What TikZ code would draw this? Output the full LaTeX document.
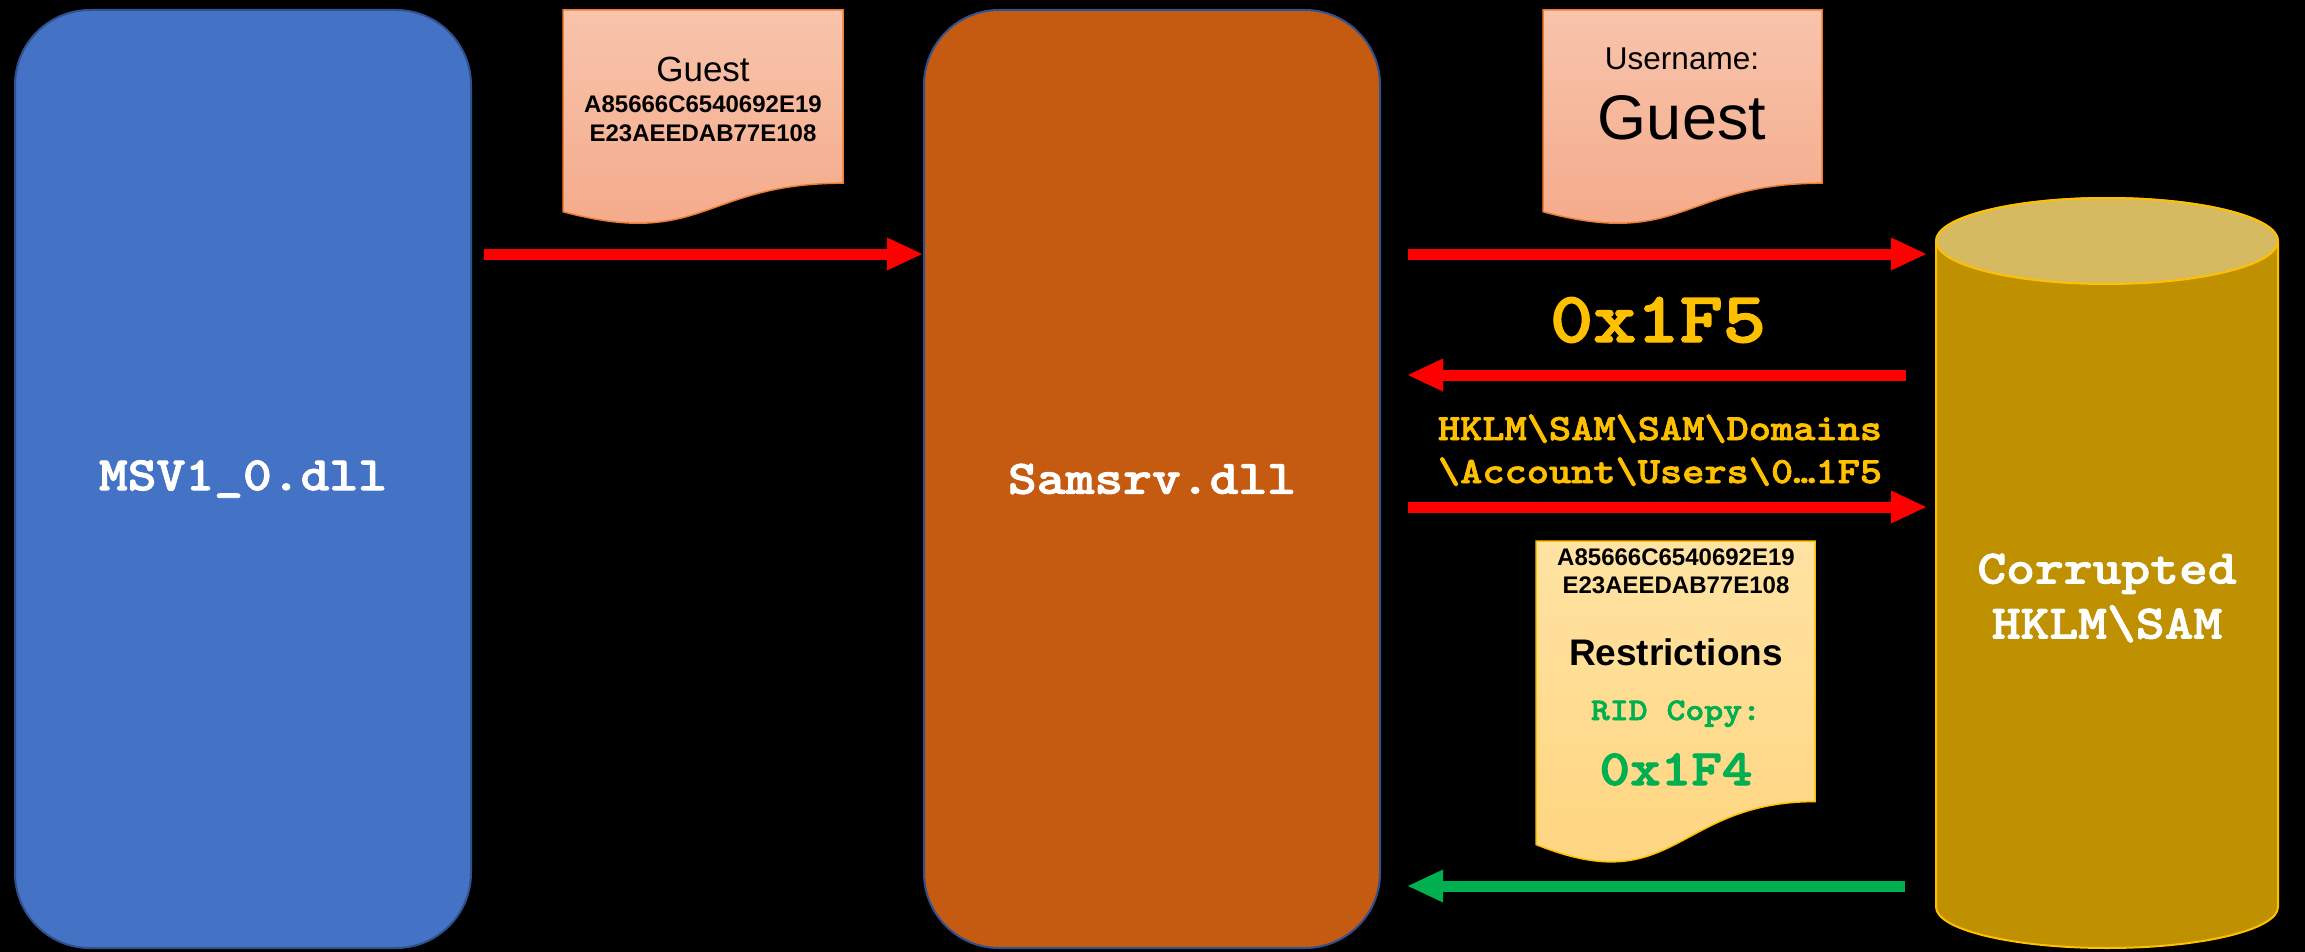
\documentclass[tikz,border=0pt]{standalone}
\usepackage{fontspec}
\setmainfont{Liberation Sans}
\setmonofont{Liberation Mono}
\newfontfamily\codefont[Extension=.otf, FakeStretch=1.143, FakeBold=2]{lmmonolt10-bold}
\usetikzlibrary{arrows.meta}
\definecolor{boxblue}{HTML}{4472C4}
\definecolor{boxedge}{HTML}{2F528F}
\definecolor{boxorange}{HTML}{C55A11}
\definecolor{cylbody}{HTML}{BF9000}
\definecolor{cyltop}{HTML}{D6BA62}
\definecolor{gold}{HTML}{FFC000}
\definecolor{arrred}{HTML}{FF0000}
\definecolor{arrgreen}{HTML}{00B050}
\definecolor{peachtop}{HTML}{F8C4AB}
\definecolor{peachbot}{HTML}{F4A888}
\definecolor{peachedge}{HTML}{ED7D31}
\definecolor{sandtop}{HTML}{FFE3A3}
\definecolor{sandbot}{HTML}{FFD47D}
\begin{document}
\begin{tikzpicture}[x=1pt,y=-1pt,
  procbox/.style={draw=boxedge, line width=2pt, rounded corners=75pt,
    minimum width=456pt, minimum height=938pt, inner sep=0pt,
    text=white, font={\fontsize{48}{56}\selectfont\codefont}},
  flowarrow/.style={line width=11pt, -{Triangle[length=35pt,width=33pt,line width=0pt]}},
  redflow/.style={flowarrow, draw=arrred, color=arrred},
  greenflow/.style={flowarrow, draw=arrgreen, color=arrgreen},
  peachdoc/.style={top color=peachtop, bottom color=peachbot, draw=peachedge, line width=1.5pt},
  sanddoc/.style={top color=sandtop, bottom color=sandbot, draw=gold, line width=1.5pt},
  doctext/.style={anchor=base, inner sep=0pt, text=black},
  codetext/.style={anchor=base, inner sep=0pt}
]
\fill[black] (0,0) rectangle (2305,952);
\useasboundingbox (0,0) rectangle (2305,952);

% process boxes
\node[procbox, fill=boxblue] (msv) at (243,479) {MSV1\_0.dll};
\node[procbox, fill=boxorange] (samsrv) at (1152,479) {Samsrv.dll};

% database cylinder
\fill[cylbody, draw=gold, line width=2pt] (1936,241) -- (1936,907)
  arc[start angle=180, end angle=360, x radius=171pt, y radius=41pt]
  -- (2278,241) arc[start angle=0, end angle=180, x radius=171pt, y radius=43pt] -- cycle;
\filldraw[fill=cyltop, draw=gold, line width=2pt] (2107,241) ellipse[x radius=171pt, y radius=43pt];
\node[text=white, align=center, inner sep=0pt,
  font={\fontsize{48}{55}\selectfont\codefont}] (samdb) at (2107,598) {Corrupted\\HKLM\textbackslash SAM};

% document 1
\path[peachdoc] (563,10) -- (843,10) -- (843,183.2)
  .. controls (703,183.2) and (703,249.2) .. (563,211.7) -- cycle;
\node[doctext, font={\fontsize{35}{40}\selectfont}] (d1name) at (703,82) {Guest};
\node[doctext, font={\fontsize{24}{28}\selectfont\bfseries}] (d1hexa) at (703,113) {A85666C6540692E19};
\node[doctext, font={\fontsize{24}{28}\selectfont\bfseries}] (d1hexb) at (703,142) {E23AEEDAB77E108};

% document 2
\path[peachdoc] (1543,10) -- (1822,10) -- (1822,183.2)
  .. controls (1682.5,183.2) and (1682.5,249.2) .. (1543,211.7) -- cycle;
\node[doctext, font={\fontsize{31.5}{36}\selectfont}] (d2label) at (1682,70) {Username:};
\node[doctext, font={\fontsize{63}{70}\selectfont}] (d2name) at (1682,140) {Guest};

% document 3
\path[sanddoc] (1536,541) -- (1815,541) -- (1815,801.6)
  .. controls (1675.5,801.6) and (1675.5,900.9) .. (1536,844.5) -- cycle;
\node[doctext, font={\fontsize{24}{28}\selectfont\bfseries}] (d3hexa) at (1676,565) {A85666C6540692E19};
\node[doctext, font={\fontsize{24}{28}\selectfont\bfseries}] (d3hexb) at (1676,593) {E23AEEDAB77E108};
\node[doctext, font={\fontsize{37}{42}\selectfont\bfseries}] (d3restr) at (1676,665) {Restrictions};
\node[codetext, text=arrgreen, font={\fontsize{31.5}{36}\selectfont\codefont}] (d3rid) at (1676,720) {RID Copy:};
\node[codetext, text=arrgreen, font={\fontsize{51}{58}\selectfont\codefont}] (d3val) at (1676,785) {0x1F4};

% labels between Samsrv and SAM
\node[codetext, text=gold, font={\fontsize{72}{80}\selectfont\codefont}] (rid) at (1658,342) {0x1F5};
\node[codetext, text=gold, font={\fontsize{37}{43}\selectfont\codefont}] (patha) at (1660,440) {HKLM\textbackslash SAM\textbackslash SAM\textbackslash Domains};
\node[codetext, text=gold, font={\fontsize{37}{43}\selectfont\codefont}] (pathb) at (1660,483) {\textbackslash Account\textbackslash Users\textbackslash 0…1F5};

% connector end points
\coordinate (a1s) at (484,254);  \coordinate (a1e) at (922,254);
\coordinate (a2s) at (1408,254); \coordinate (a2e) at (1926,254);
\coordinate (a3s) at (1906,375); \coordinate (a3e) at (1408,375);
\coordinate (a4s) at (1408,507); \coordinate (a4e) at (1926,507);
\coordinate (a5s) at (1905,886); \coordinate (a5e) at (1408,886);

\draw[redflow] (a1s) -- (a1e);
\draw[redflow] (a2s) -- (a2e);
\draw[redflow] (a3s) -- (a3e);
\draw[redflow] (a4s) -- (a4e);
\draw[greenflow] (a5s) -- (a5e);
\end{tikzpicture}
\end{document}
